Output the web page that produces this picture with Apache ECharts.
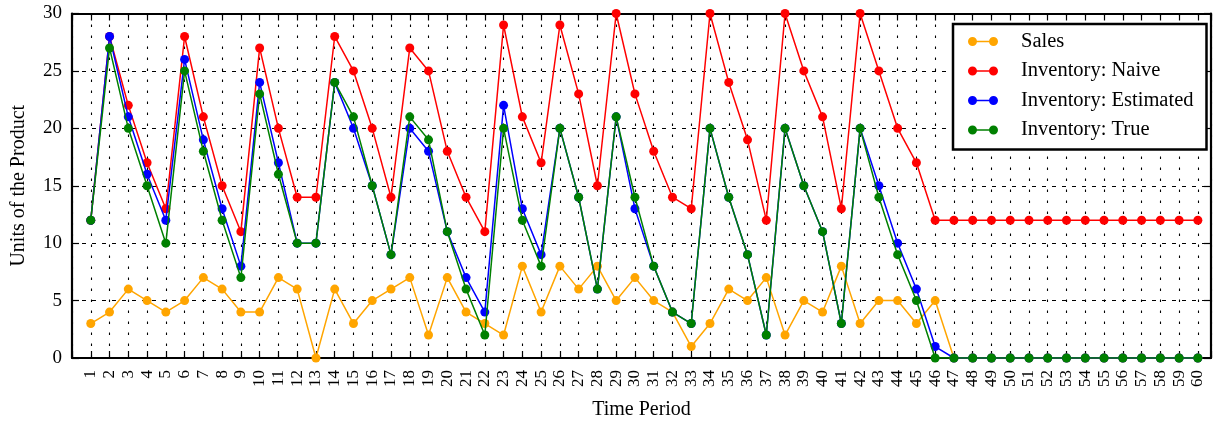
<!DOCTYPE html>
<html>
<head>
<meta charset="utf-8">
<script src="https://cdn.jsdelivr.net/npm/echarts@6/dist/echarts.min.js"></script>
<style>
html,body{margin:0;padding:0;background:#fff;}
#chart{width:1215px;height:421px;}
</style>
</head>
<body>
<div id="chart"></div>
<script>
const periods = [1,2,3,4,5,6,7,8,9,10,11,12,13,14,15,16,17,18,19,20,21,22,23,24,25,26,27,28,29,30,31,32,33,34,35,36,37,38,39,40,41,42,43,44,45,46,47,48,49,50,51,52,53,54,55,56,57,58,59,60];
const sales = [3,4,6,5,4,5,7,6,4,4,7,6,0,6,3,5,6,7,2,7,4,3,2,8,4,8,6,8,5,7,5,4,1,3,6,5,7,2,5,4,8,3,5,5,3,5,0,0,0,0,0,0,0,0,0,0,0,0,0,0];
const inventoryNaive = [12,28,22,17,13,28,21,15,11,27,20,14,14,28,25,20,14,27,25,18,14,11,29,21,17,29,23,15,30,23,18,14,13,30,24,19,12,30,25,21,13,30,25,20,17,12,12,12,12,12,12,12,12,12,12,12,12,12,12,12];
const inventoryEstimated = [12,28,21,16,12,26,19,13,8,24,17,10,10,24,20,15,9,20,18,11,7,4,22,13,9,20,14,6,21,13,8,4,3,20,14,9,2,20,15,11,3,20,15,10,6,1,0,0,0,0,0,0,0,0,0,0,0,0,0,0];
const inventoryTrue = [12,27,20,15,10,25,18,12,7,23,16,10,10,24,21,15,9,21,19,11,6,2,20,12,8,20,14,6,21,14,8,4,3,20,14,9,2,20,15,11,3,20,14,9,5,0,0,0,0,0,0,0,0,0,0,0,0,0,0,0];
const yTicks = [0,5,10,15,20,25,30];

const FONT = '"Liberation Serif", "DejaVu Serif", serif';
const legendIcon = 'path://M0,4.5A4.5,4.5 0 1,1 9,4.5A4.5,4.5 0 1,1 0,4.5Z M21,4.5A4.5,4.5 0 1,1 30,4.5A4.5,4.5 0 1,1 21,4.5Z M4.5,3.75L25.5,3.75L25.5,5.25L4.5,5.25Z';

function pairs(vals){ return periods.map((p,i)=>[p, vals[i]]); }
function mkSeries(name, vals, color, z){
  return {
    name: name, type: 'line', data: pairs(vals), z: z,
    symbol: 'circle', symbolSize: 9, clip: true,
    lineStyle: {color: color, width: 1.5},
    itemStyle: {color: color, borderWidth: 0},
    emphasis: {disabled: true},
    animation: false
  };
}

const chart = echarts.init(document.getElementById('chart'), null, {renderer: 'canvas'});
const xCommon = {
  type: 'value', min: 0, max: 60.7, interval: 1,
  axisLine: {show: true, onZero: false, lineStyle: {color: '#000', width: 2.2}},
  axisTick: {show: true, inside: true, length: 7, lineStyle: {color: '#000', width: 1.2}},
  minorTick: {show: false}
};
const yCommon = {
  type: 'value', min: yTicks[0], max: yTicks[yTicks.length-1], interval: 5,
  axisLine: {show: true, onZero: false, lineStyle: {color: '#000', width: 2.2}},
  axisTick: {show: true, inside: true, length: 7, lineStyle: {color: '#000', width: 1.2}}
};
chart.setOption({
  animation: false,
  backgroundColor: '#fff',
  grid: {left: 72, right: 4, top: 13.5, bottom: 63, containLabel: false, outerBoundsMode: 'none'},
  xAxis: [
    Object.assign({}, xCommon, {
      position: 'bottom',
      name: 'Time Period', nameLocation: 'middle', nameGap: 42,
      nameTextStyle: {fontFamily: FONT, fontSize: 20, color: '#000'},
      axisLabel: {
        show: true, rotate: 90, margin: 12, color: '#000', fontFamily: FONT, fontSize: 17,
        showMinLabel: true, showMaxLabel: true,
        formatter: function(v){ return (v >= 1 && Math.abs(v - Math.round(v)) < 1e-6 && v <= 60) ? String(Math.round(v)) : ''; }
      },
      splitLine: {show: true, lineStyle: {color: '#000', width: 1.1, type: [2.5, 8.5]}}
    }),
    Object.assign({}, xCommon, {
      position: 'top',
      axisLabel: {show: false},
      splitLine: {show: false}
    })
  ],
  yAxis: [
    Object.assign({}, yCommon, {
      position: 'left',
      name: 'Units of the Product', nameLocation: 'middle', nameGap: 43, nameRotate: 90,
      nameTextStyle: {fontFamily: FONT, fontSize: 20, color: '#000'},
      axisLabel: {show: true, margin: 10, color: '#000', fontFamily: FONT, fontSize: 19},
      splitLine: {show: true, lineStyle: {color: '#000', width: 1.1, type: [4, 6]}}
    }),
    Object.assign({}, yCommon, {
      position: 'right',
      axisLabel: {show: false},
      splitLine: {show: false}
    })
  ],
  legend: {
    show: true, orient: 'vertical', align: 'left',
    left: 953, top: 24,
    padding: [7, 13, 9, 15],
    itemWidth: 30, itemHeight: 9, itemGap: 8.5,
    icon: legendIcon,
    itemStyle: {borderWidth: 0},
    backgroundColor: '#fff',
    borderColor: '#000', borderWidth: 2.5, borderRadius: 0,
    selectedMode: false,
    textStyle: {fontFamily: FONT, fontSize: 20.5, color: '#000', lineHeight: 20, padding: [0, 0, 0, 18]},
    data: ['Sales', 'Inventory: Naive', 'Inventory: Estimated', 'Inventory: True']
  },
  series: [
    mkSeries('Sales', sales, '#FFA500', 2),
    mkSeries('Inventory: Naive', inventoryNaive, '#FF0000', 3),
    mkSeries('Inventory: Estimated', inventoryEstimated, '#0000FF', 4),
    mkSeries('Inventory: True', inventoryTrue, '#008000', 5)
  ]
});
</script>
</body>
</html>
